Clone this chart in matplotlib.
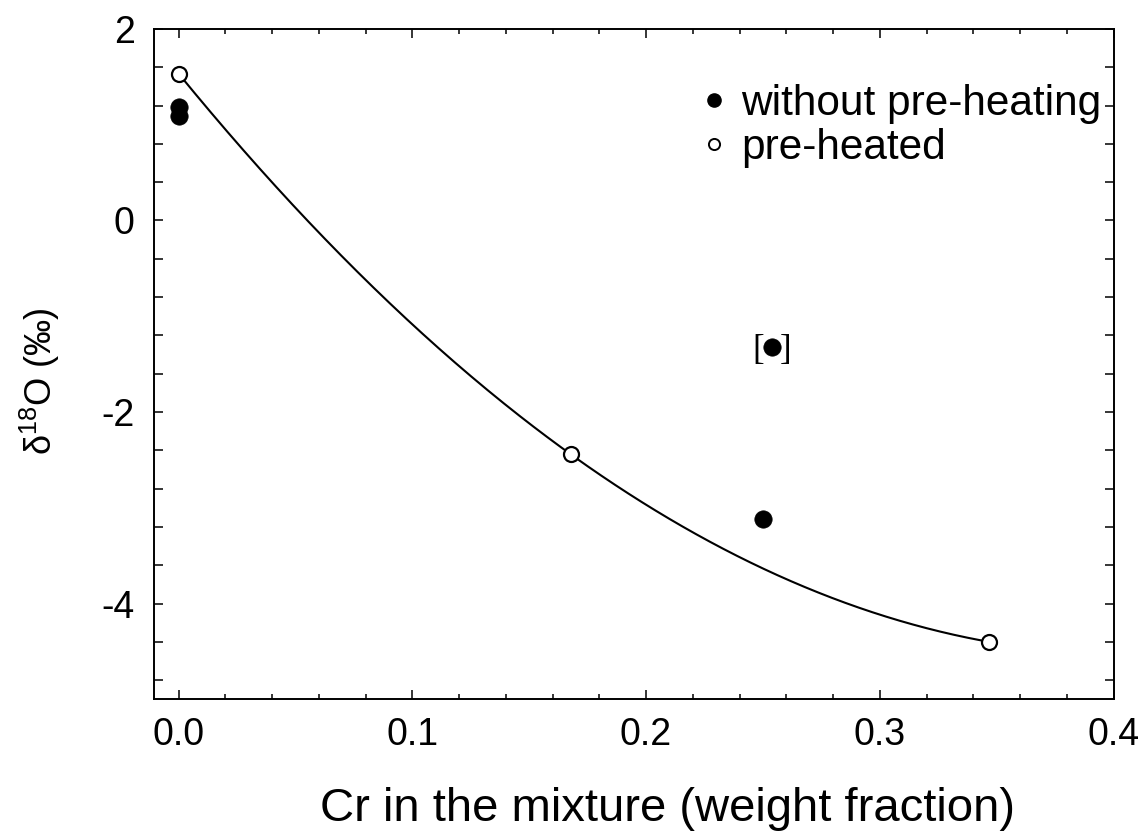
import numpy as np
import matplotlib
matplotlib.use("Agg")
import matplotlib.pyplot as plt
from matplotlib.ticker import MultipleLocator, FormatStrFormatter
from matplotlib.lines import Line2D

# ---- data ----
filled_x = [0.0, 0.0, 0.250, 0.2537]
filled_y = [1.18, 1.09, -3.12, -1.32]
open_x = [0.0, 0.1677, 0.3467]
open_y = [1.535, -2.44, -4.40]
bracket_index = 3  # the bracketed (excluded) filled point
legend_labels = ["without pre-heating", "pre-heated"]
xlabel = "Cr in the mixture (weight fraction)"
ylabel = r"$\mathregular{\delta^{18}}$O (‰)"

plt.rcParams['font.family'] = ['Liberation Sans', 'DejaVu Sans']
plt.rcParams['mathtext.fontset'] = 'custom'
plt.rcParams['mathtext.rm'] = 'Liberation Sans'
plt.rcParams['mathtext.it'] = 'Liberation Sans:italic'
plt.rcParams['mathtext.bf'] = 'Liberation Sans:bold'
plt.rcParams['axes.unicode_minus'] = False

fig = plt.figure(figsize=(11.43, 8.35), dpi=100)
ax = fig.add_axes([0.1347, 0.1625, 0.8402, 0.8028])

# fitted quadratic curve through pre-heated points
coef = np.polyfit(open_x, open_y, 2)
xc = np.linspace(min(open_x), max(open_x), 300)
ax.plot(xc, np.polyval(coef, xc), color='black', lw=1.5, zorder=2)

ax.plot(filled_x, filled_y, linestyle='none', marker='o', ms=12.5,
        mfc='black', mec='black', mew=0.5, zorder=3)
ax.plot(open_x, open_y, linestyle='none', marker='o', ms=10.8,
        mfc='white', mec='black', mew=1.6, zorder=4)

bx, by = filled_x[bracket_index], filled_y[bracket_index]
for off, ch in ((-10, "["), (10, "]")):
    ax.annotate(ch, (bx, by), xytext=(off, 0), textcoords='offset points',
                ha='center', va='center_baseline', fontsize=25,
                family='Liberation Serif')

ax.set_xlim(-0.0105, 0.4003)
ax.set_ylim(-5, 2)
ax.xaxis.set_major_locator(MultipleLocator(0.1))
ax.xaxis.set_minor_locator(MultipleLocator(0.02))
ax.xaxis.set_major_formatter(FormatStrFormatter('%.1f'))
ax.yaxis.set_major_locator(MultipleLocator(2))
ax.yaxis.set_minor_locator(MultipleLocator(0.4))

ax.tick_params(which='both', direction='in', top=True, right=True, width=1.1)
ax.tick_params(axis='x', which='major', length=6.8, labelsize=27, pad=13)
ax.tick_params(axis='x', which='minor', length=3.8)
ax.tick_params(axis='y', which='both', length=6.8)
ax.tick_params(axis='y', which='major', labelsize=27, pad=14)
for s in ax.spines.values():
    s.set_linewidth(1.4)

ax.set_xlabel(xlabel, fontsize=34, va='center')
ax.xaxis.set_label_coords(0.535, -0.163)
ax.set_ylabel(ylabel, fontsize=26)
ax.yaxis.set_label_coords(-0.096, 0.4746)

handles = [Line2D([], [], ls='none', marker='o', ms=9.5, mfc='black', mec='black'),
           Line2D([], [], ls='none', marker='o', ms=8, mfc='white', mec='black', mew=1.4)]
ax.legend(handles, legend_labels, loc='upper right', bbox_to_anchor=(1.0, 0.937),
          frameon=False, fontsize=30.5, handlelength=0.5, handletextpad=0.4,
          labelspacing=0.1, borderaxespad=0.2, borderpad=0.1)

fig.savefig("out.png", dpi=100)
